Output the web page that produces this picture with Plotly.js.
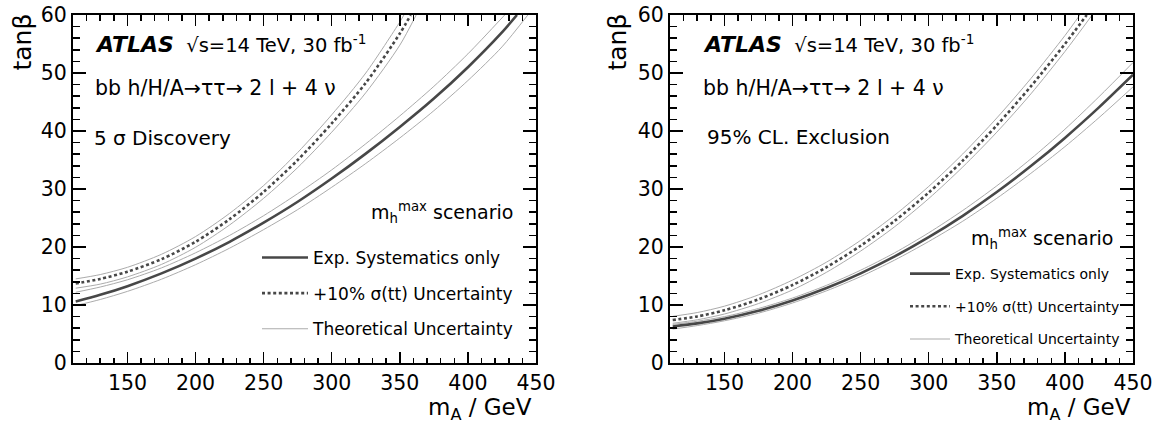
<!DOCTYPE html>
<html><head><meta charset="utf-8">
<script src="https://cdn.plot.ly/plotly-3.0.1.min.js"></script>
<style>html,body{margin:0;padding:0;background:#fff}#chart{width:1167px;height:427px}</style>
</head><body><div id="chart"></div>
<script>
// ---- Left panel: 5 sigma discovery (mA in GeV, tanBeta) ----
const discExpX   = [112,130,150,175,200,225,250,275,300,325,350,375,400,425,436];
const discExpY   = [10.6,11.75,13.25,15.45,18.0,20.9,24.2,27.8,31.8,36.1,40.7,45.6,51.0,57.0,60.0];
const discExpHiX = [112,130,150,175,200,225,250,275,300,325,350,375,400,427];
const discExpHiY = [12.2,13.1,14.35,16.4,19.0,22.0,25.4,29.2,33.3,37.8,42.6,47.7,53.3,60.0];
const discExpLoX = [112,130,150,175,200,225,250,275,300,325,350,375,400,425,444];
const discExpLoY = [9.9,10.95,12.35,14.45,16.95,19.8,23.0,26.45,30.3,34.4,38.8,43.5,48.7,54.5,60.0];
const discTtX    = [112,130,150,175,200,225,250,275,300,325,350,358];
const discTtY    = [13.7,14.5,15.75,17.9,20.9,24.8,29.5,35.0,41.3,48.3,56.8,60.0];
const discTtHiX  = [112,130,150,175,200,225,250,275,300,325,350,353];
const discTtHiY  = [14.5,15.25,16.5,18.75,21.8,25.8,30.6,36.3,42.8,50.0,58.8,60.0];
const discTtLoX  = [112,130,150,175,200,225,250,275,300,325,350,362];
const discTtLoY  = [12.9,13.6,14.85,17.0,19.95,23.8,28.4,33.7,39.8,46.6,54.8,60.0];

// ---- Right panel: 95% CL exclusion ----
const exclExpX   = [112,130,150,175,200,225,250,275,300,325,350,375,400,425,450];
const exclExpY   = [6.3,6.83,7.64,9.0,10.77,12.92,15.45,18.37,21.69,25.38,29.47,33.95,38.81,44.07,49.7];
const exclExpHiY = [6.65,7.2,8.0,9.4,11.2,13.4,16.0,19.0,22.45,26.3,30.55,35.2,40.3,45.9,51.8];
const exclExpLoY = [5.85,6.45,7.28,8.6,10.35,12.45,14.9,17.75,20.95,24.45,28.4,32.7,37.3,42.3,47.6];
const exclTtX    = [112,130,150,175,200,225,250,275,300,325,350,375,400,416];
const exclTtY    = [7.4,8.03,9.09,10.97,13.44,16.52,20.21,24.5,29.39,34.89,40.99,47.7,55.0,60.0];
const exclTtHiX  = [112,130,150,175,200,225,250,275,300,325,350,375,400,411];
const exclTtHiY  = [8.05,8.7,9.8,11.75,14.3,17.4,21.15,25.5,30.45,36.05,42.25,49.05,56.45,60.0];
const exclTtLoX  = [112,130,150,175,200,225,250,275,300,325,350,375,400,420];
const exclTtLoY  = [6.85,7.45,8.45,10.25,12.6,15.65,19.3,23.5,28.35,33.8,39.8,46.4,53.7,60.0];

const legendNames = ['Exp. Systematics only', '+10% σ(tt) Uncertainty', 'Theoretical Uncertainty'];

const FONT = 'DejaVu Sans, sans-serif';
const DARK = '#474747', LIGHT = '#ababab';

function tr(x, y, xa, ya, kind, leg, show) {
  const t = {x: x, y: y, xaxis: xa, yaxis: ya, type: 'scatter', mode: 'lines',
    legend: leg, showlegend: show, hoverinfo: 'skip'};
  if (kind === 'exp') {
    t.line = {color: DARK, width: 2.6, shape: 'spline', smoothing: 0.8};
    t.name = legendNames[0]; t.legendgroup = 'exp'; t.legendrank = 1;
  } else if (kind === 'tt') {
    t.line = {color: DARK, width: 2.6, dash: '3px,2.6px', shape: 'spline', smoothing: 0.8};
    t.name = legendNames[1]; t.legendgroup = 'tt'; t.legendrank = 2;
  } else {
    t.line = {color: LIGHT, width: 1, shape: 'spline', smoothing: 0.8};
    t.name = legendNames[2]; t.legendgroup = 'th'; t.legendrank = 3;
  }
  return t;
}

const data = [
  tr(discExpHiX, discExpHiY, 'x', 'y', 'th', 'legend', true),
  tr(discExpLoX, discExpLoY, 'x', 'y', 'th', 'legend', false),
  tr(discTtHiX, discTtHiY, 'x', 'y', 'th', 'legend', false),
  tr(discTtLoX, discTtLoY, 'x', 'y', 'th', 'legend', false),
  tr(discExpX, discExpY, 'x', 'y', 'exp', 'legend', true),
  tr(discTtX, discTtY, 'x', 'y', 'tt', 'legend', true),
  tr(exclExpX, exclExpHiY, 'x2', 'y2', 'th', 'legend2', true),
  tr(exclExpX, exclExpLoY, 'x2', 'y2', 'th', 'legend2', false),
  tr(exclTtHiX, exclTtHiY, 'x2', 'y2', 'th', 'legend2', false),
  tr(exclTtLoX, exclTtLoY, 'x2', 'y2', 'th', 'legend2', false),
  tr(exclExpX, exclExpY, 'x2', 'y2', 'exp', 'legend2', true),
  tr(exclTtX, exclTtY, 'x2', 'y2', 'tt', 'legend2', true)
];

const W = 1167, H = 427;
const yDom = [(H - 363) / H, (H - 15) / H];
function xax(dom, anchor) {
  return {domain: dom, anchor: anchor, range: [110, 450], tickmode: 'linear', tick0: 0, dtick: 50,
    ticks: 'inside', ticklen: 11, tickwidth: 1.5, tickcolor: '#000',
    minor: {dtick: 10, tick0: 0, ticks: 'inside', ticklen: 5.5, tickwidth: 1.5, tickcolor: '#000', showgrid: false},
    showline: true, linewidth: 2, linecolor: '#000', mirror: 'ticks', showgrid: false, zeroline: false,
    tickfont: {family: FONT, size: 20.5, color: '#000'}, fixedrange: true};
}
function yax(anchor) {
  return {domain: yDom, anchor: anchor, range: [0, 60], tickmode: 'linear', tick0: 0, dtick: 10,
    ticks: 'inside', ticklen: 13, tickwidth: 1.5, tickcolor: '#000',
    minor: {dtick: 2, tick0: 0, ticks: 'inside', ticklen: 7, tickwidth: 1.5, tickcolor: '#000', showgrid: false},
    showline: true, linewidth: 2, linecolor: '#000', mirror: 'ticks', showgrid: false, zeroline: false,
    tickfont: {family: FONT, size: 20.5, color: '#000'}, fixedrange: true};
}

function txt(xref, yref, x, y, text, size, xanchor, extra) {
  return Object.assign({xref: xref, yref: yref, x: x, y: y, text: text, showarrow: false,
    xanchor: xanchor, yanchor: 'middle', font: {family: FONT, size: size, color: '#000'}}, extra || {});
}

const atlasLine = '<span style="font-size:22px"><b><i>ATLAS</i></b></span>  √s=14 TeV, 30 fb<sup>-1</sup>';
const procLine = 'bb h/H/A→ττ→ 2 l + 4 ν';
const scen = 'm<sub>h</sub><sup>max</sup> scenario';

const annotations = [
  // left panel
  txt('x domain', 'y domain', 0.043, (363 - 44) / 348, atlasLine, 19.5, 'left'),
  txt('x domain', 'y domain', 0.043, (363 - 88) / 348, procLine, 20.5, 'left'),
  txt('x domain', 'y domain', 0.041, (363 - 138) / 348, '5 σ Discovery', 20, 'left'),
  txt('x domain', 'y domain', 0.955, (363 - 212) / 348, scen, 19, 'right'),
  // right panel
  txt('x2 domain', 'y2 domain', 0.067, (363 - 44) / 348, atlasLine, 19.5, 'left'),
  txt('x2 domain', 'y2 domain', 0.067, (363 - 88) / 348, procLine, 20.5, 'left'),
  txt('x2 domain', 'y2 domain', 0.075, (363 - 137) / 348, '95% CL. Exclusion', 20, 'left'),
  txt('x2 domain', 'y2 domain', 0.962, (363 - 238) / 348, scen, 19, 'right'),
  // axis titles
  txt('paper', 'paper', 534 / W, (H - 409) / H, 'm<sub>A</sub> / GeV', 23, 'right'),
  txt('paper', 'paper', 1133 / W, (H - 409) / H, 'm<sub>A</sub> / GeV', 23, 'right'),
  txt('paper', 'paper', 22 / W, (H - 12) / H, 'tanβ', 25, 'center', {textangle: -90, yanchor: 'top'}),
  txt('paper', 'paper', 617 / W, (H - 12) / H, 'tanβ', 25, 'center', {textangle: -90, yanchor: 'top'})
];

const layout = {
  width: W, height: H, margin: {l: 0, r: 0, t: 0, b: 0},
  paper_bgcolor: '#fff', plot_bgcolor: '#fff',
  xaxis: xax([73 / W, 536 / W], 'y'),
  yaxis: yax('x'),
  xaxis2: xax([670 / W, 1133 / W], 'y2'),
  yaxis2: yax('x2'),
  legend: {x: 257 / W, y: (H - 240) / H, xanchor: 'left', yanchor: 'top', bgcolor: 'rgba(0,0,0,0)',
    traceorder: 'grouped', tracegroupgap: 10.5, itemwidth: 46,
    font: {family: FONT, size: 17, color: '#000'}},
  legend2: {x: 905 / W, y: (H - 258) / H, xanchor: 'left', yanchor: 'top', bgcolor: 'rgba(0,0,0,0)',
    traceorder: 'grouped', tracegroupgap: 11.5, itemwidth: 40,
    font: {family: FONT, size: 14, color: '#000'}},
  annotations: annotations,
  showlegend: true
};

Plotly.newPlot('chart', data, layout, {displayModeBar: false, staticPlot: true});
</script>
</body></html>
